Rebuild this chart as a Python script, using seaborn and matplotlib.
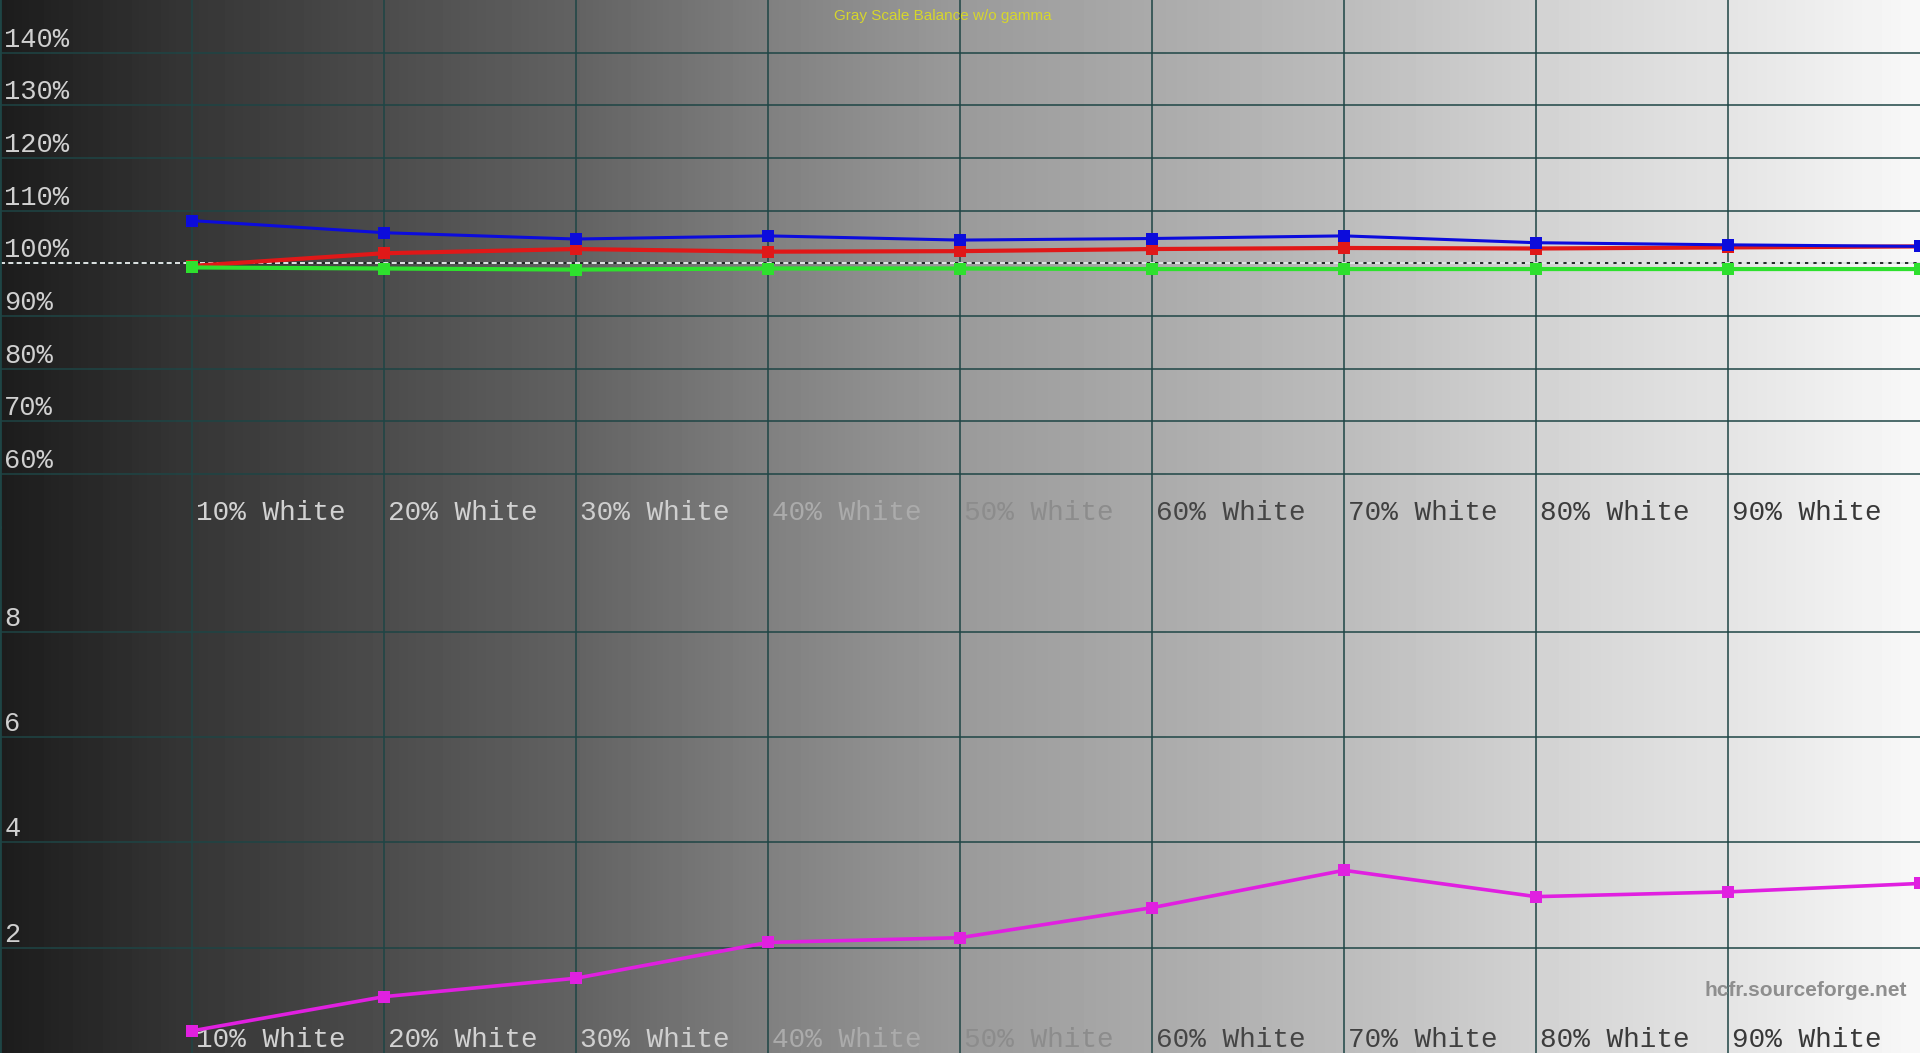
import numpy as np
import matplotlib
matplotlib.use("Agg")
import matplotlib.pyplot as plt
from matplotlib.transforms import ScaledTranslation
import seaborn as sns

# gray scale steps (percent stimulus)
levels = [10, 20, 30, 40, 50, 60, 70, 80, 90, 100]
step_labels = ["10% White", "20% White", "30% White", "40% White", "50% White",
               "60% White", "70% White", "80% White", "90% White"]
step_ticks = [10, 20, 30, 40, 50, 60, 70, 80, 90]

# RGB balance, % of target
red_pct = [99.5, 101.9, 102.7, 102.2, 102.3, 102.7, 102.9, 102.8, 103.0, 103.2]
green_pct = [99.2, 99.0, 98.8, 99.0, 99.0, 98.9, 98.9, 98.9, 98.9, 98.9]
blue_pct = [108.1, 105.8, 104.6, 105.2, 104.4, 104.7, 105.2, 103.9, 103.5, 103.2]
ref_level = 100

# delta E per step
delta_e = [0.42, 1.07, 1.42, 2.10, 2.19, 2.76, 3.47, 2.97, 3.06, 3.22]

pct_ticks = [60, 70, 80, 90, 100, 110, 120, 130, 140]
pct_labels = ["60%", "70%", "80%", "90%", "100%", "110%", "120%", "130%", "140%"]
de_ticks = [2, 4, 6, 8]
de_labels = ["2", "4", "6", "8"]

sns.set_style("white")
plt.rcParams["font.family"] = ["Liberation Mono", "DejaVu Sans Mono"]

fig = plt.figure(figsize=(19.2, 10.53), dpi=100)

# gray ramp behind everything
bg = fig.add_axes([0, 0, 1, 1], zorder=-1)
gx = np.linspace(0, 1, 1920)
ramp = np.interp(gx, [0, 0.1, 0.2, 0.3, 0.4, 0.5, 0.6, 0.7, 0.8, 0.9, 1.0],
                 [0x1c, 0x36, 0x4c, 0x62, 0x80, 0x9a, 0xaa, 0xbc, 0xd2, 0xe4, 0xf8]) / 255
bg.imshow(np.tile(ramp, (4, 1)), cmap="gray", vmin=0, vmax=1, aspect="auto",
          extent=[0, 1, 0, 1])
bg.axis("off")

grid_col = "#1e4545"
xlab_cols = ["#d2d2d2", "#d2d2d2", "#cfcfcf", "#ababab", "#8c8c8c",
             "#454545", "#404040", "#3c3c3c", "#383838"]
nudge = ScaledTranslation(4 / 100, 0, fig.dpi_scale_trans)

ax_top = fig.add_axes([0, 0.5, 1, 0.5])
ax_bot = fig.add_axes([0, 0.0, 1, 0.5])

for ax, yt, yl in [(ax_top, pct_ticks, pct_labels), (ax_bot, de_ticks, de_labels)]:
    ax.set_facecolor("none")
    ax.set_xlim(0, 100)
    ax.set_xticks(step_ticks, step_labels)
    ax.set_yticks(yt, yl)
    ax.grid(True, color=grid_col, linewidth=1.1, zorder=0)
    for s in ["top", "right", "bottom"]:
        ax.spines[s].set_visible(False)
    ax.spines["left"].set_color(grid_col)
    ax.spines["left"].set_linewidth(2)
    ax.tick_params(axis="both", length=0)
    ax.tick_params(axis="x", pad=0, labelsize=20)
    ax.tick_params(axis="y", pad=-3, labelsize=19.5, labelcolor="#d0d0d0")
    for lab, c in zip(ax.get_xticklabels(), xlab_cols):
        lab.set_ha("left")
        lab.set_va("bottom")
        lab.set_color(c)
        lab.set_transform(lab.get_transform() + nudge)
    for lab in ax.get_yticklabels():
        lab.set_ha("left")
        lab.set_va("bottom")

ax_top.set_ylim(50, 150)
ax_bot.set_ylim(0, 10)

# reference 100% line
ax_top.axhline(ref_level, color="white", linestyle=(0, (3, 2)), gapcolor="#202020",
               linewidth=1.2, zorder=1)

sns.lineplot(x=levels, y=red_pct, ax=ax_top, color="#e01818", linewidth=3,
             marker="s", markersize=8, markeredgewidth=0, zorder=3)
sns.lineplot(x=levels, y=blue_pct, ax=ax_top, color="#0c0cdc", linewidth=2.2,
             marker="s", markersize=8, markeredgewidth=0, zorder=4)
sns.lineplot(x=levels, y=green_pct, ax=ax_top, color="#2ee02e", linewidth=3,
             marker="s", markersize=8, markeredgewidth=0, zorder=5)

sns.lineplot(x=levels, y=delta_e, ax=ax_bot, color="#e020e0", linewidth=2.6,
             marker="s", markersize=8, markeredgewidth=0, zorder=3)

for ax in (ax_top, ax_bot):
    ax.set_xlabel("")
    ax.set_ylabel("")

fig.text(943 / 1920, 1 - 16 / 1053, "Gray Scale Balance w/o gamma", color="#d6d62c",
         fontsize=11, ha="center", va="center", family=["Liberation Sans", "DejaVu Sans"])
fig.text(1907 / 1920, 1 - 990 / 1053, "hcfr.sourceforge.net", color="#8e8e8e",
         fontsize=15, fontweight="bold", ha="right", va="center",
         family=["Liberation Sans", "DejaVu Sans"])

fig.savefig("out.png", dpi=100)
